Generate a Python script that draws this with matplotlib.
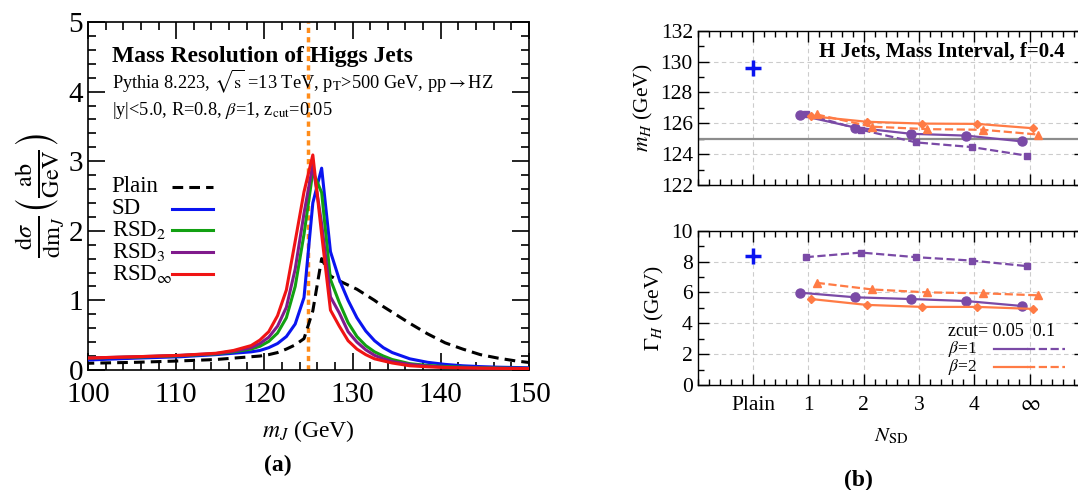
import numpy as np
import matplotlib
matplotlib.use("Agg")
import matplotlib.pyplot as plt
from matplotlib.lines import Line2D

plt.rcParams['font.family'] = ['Liberation Serif', 'DejaVu Serif']
plt.rcParams['mathtext.fontset'] = 'stix'

# ---- panel (a): jet mass distributions (bin centres, GeV) ----
m_J = [99.5, 105.5, 110.5, 114.5, 116.5, 118.5, 119.5, 120.5, 121.5, 122.5,
       123.5, 124.5, 125.5, 126.5, 127.5, 128.5, 129.5, 130.5, 131.5, 132.5,
       133.5, 134.5, 136.5, 138.5, 140.5, 142.5, 144.5, 146.5, 148.5, 150.5]
plain = [0.095, 0.11, 0.13, 0.15, 0.17, 0.19, 0.2, 0.22, 0.25, 0.3,
         0.36, 0.45, 0.85, 1.6, 1.35, 1.28, 1.22, 1.16, 1.08, 1.0,
         0.91, 0.83, 0.67, 0.52, 0.39, 0.3, 0.22, 0.17, 0.13, 0.1]
sd = [0.14, 0.17, 0.19, 0.22, 0.24, 0.26, 0.28, 0.32, 0.38, 0.48,
      0.66, 1.04, 2.4, 2.9, 1.7, 1.3, 1.0, 0.75, 0.56, 0.42,
      0.32, 0.25, 0.16, 0.11, 0.08, 0.06, 0.048, 0.04, 0.035, 0.03]
rsd2 = [0.17, 0.185, 0.205, 0.23, 0.26, 0.30, 0.34, 0.41, 0.53, 0.75,
        1.2, 1.95, 2.85, 2.55, 1.3, 0.97, 0.68, 0.48, 0.35, 0.26,
        0.2, 0.15, 0.09, 0.065, 0.05, 0.04, 0.032, 0.027, 0.024, 0.022]
rsd3 = [0.17, 0.19, 0.21, 0.235, 0.27, 0.32, 0.38, 0.47, 0.63, 0.9,
        1.45, 2.25, 2.95, 2.1, 1.05, 0.82, 0.55, 0.4, 0.29, 0.21,
        0.16, 0.12, 0.08, 0.055, 0.04, 0.033, 0.027, 0.024, 0.022, 0.02]
rsdinf = [0.17, 0.19, 0.21, 0.24, 0.28, 0.35, 0.43, 0.55, 0.78, 1.15,
          1.85, 2.56, 3.09, 1.95, 0.86, 0.63, 0.42, 0.30, 0.22, 0.16,
          0.13, 0.10, 0.06, 0.045, 0.035, 0.03, 0.025, 0.022, 0.02, 0.02]
m_higgs = 125.0

# ---- panel (b): fitted mass and width vs N_SD ----
n_sd_labels = ['Plain', '1', '2', '3', '4', r'$\infty$']
plain_mass = 129.6
plain_width = 8.38
mass_b1_z005 = [126.52, 125.72, 125.32, 125.2, 124.83]
mass_b1_z01 = [126.6, 125.58, 124.76, 124.46, 123.9]
mass_b2_z005 = [126.46, 126.1, 125.98, 125.96, 125.68]
mass_b2_z01 = [126.57, 125.78, 125.62, 125.58, 125.27]
width_b1_z005 = [5.98, 5.68, 5.57, 5.44, 5.12]
width_b1_z01 = [8.28, 8.58, 8.28, 8.06, 7.7]
width_b2_z005 = [5.57, 5.19, 5.06, 5.06, 4.93]
width_b2_z01 = [6.62, 6.19, 6.0, 5.94, 5.81]

purple = '#7a4aa6'
orange = '#ff7b45'

fig = plt.figure(figsize=(10.78, 4.9), dpi=100)

# ===================== (a) =====================
ax = fig.add_axes([0.0816, 0.245, 0.409, 0.710])
curves = [(plain, 'Plain', 'black', '--'), (sd, 'SD', '#0a14f0', '-'),
          (rsd2, r'RSD$_2$', '#12a012', '-'), (rsd3, r'RSD$_3$', '#801a8c', '-'),
          (rsdinf, r'RSD$_\infty$', '#f01414', '-')]
for y, lab, c, ls in curves:
    if ls == '--':
        ax.plot(m_J, y, color=c, lw=2.2, ls=(0, (3.5, 2)), zorder=3)
    else:
        ax.plot(m_J, y, color=c, lw=2.2, zorder=3)
ax.axvline(m_higgs, color='#ff8c1a', lw=2.5, ls=(0, (1.5, 1.2)), zorder=2)
ax.set_xlim(100, 150)
ax.set_ylim(0, 5)
ax.set_xticks(np.arange(100, 151, 10))
ax.set_xticks(np.arange(100, 151, 2), minor=True)
ax.set_yticks(np.arange(0, 6, 1))
ax.set_yticks(np.arange(0, 5.01, 0.2), minor=True)
ax.tick_params(which='both', direction='in', top=True, right=True, labelsize=21, width=1.2)
ax.tick_params(which='major', length=12)
ax.tick_params(which='minor', length=6)
ax.tick_params(axis='x', pad=9)
for s in ax.spines.values():
    s.set_linewidth(1.2)
ax.set_xlabel(r'$m_J$ (GeV)', fontsize=17, labelpad=7)
ax.set_ylabel(r'$\frac{\mathrm{d}\sigma}{\mathrm{d}\mathrm{m}_J}\left(\frac{\mathrm{ab}}{\mathrm{GeV}}\right)$',
              fontsize=25, labelpad=2)

ax.text(0.054, 0.885, 'Mass Resolution of Higgs Jets', transform=ax.transAxes,
        fontsize=17, fontweight='bold')
ax.text(0.054, 0.81, r'Pythia 8.223, $\sqrt{\mathrm{s}}$ =13 TeV, p$_\mathrm{T}$>500 GeV, pp$\rightarrow$HZ',
        transform=ax.transAxes, fontsize=13.2)
ax.text(0.054, 0.733, r'|y|<5.0, R=0.8, $\beta$=1, z$_\mathrm{cut}$=0.05',
        transform=ax.transAxes, fontsize=13.2)

# legend: labels left, line samples right
for i, (y, lab, c, ls) in enumerate(curves):
    yy = 0.526 - i * 0.0624
    ax.text(0.054, yy, lab, transform=ax.transAxes, fontsize=16.5, va='center')
    dash = (0, (3.5, 2)) if ls == '--' else '-'
    ax.add_line(Line2D([0.19, 0.284], [yy, yy], transform=ax.transAxes,
                       color=c, lw=2.2, ls=dash))

fig.text(0.258, 0.05, '(a)', fontsize=17, fontweight='bold', ha='center', va='center')

# ===================== (b) =====================
xs = np.arange(1, 6)
ax1 = fig.add_axes([0.6472, 0.6224, 0.3595, 0.315])
ax2 = fig.add_axes([0.6472, 0.2143, 0.3595, 0.315])

series_mass = [(mass_b1_z005, -0.15, purple, '-', 'o', 6.5),
               (mass_b1_z01, -0.05, purple, '--', 's', 4.5),
               (mass_b2_z005, 0.05, orange, '-', 'D', 4.5),
               (mass_b2_z01, 0.15, orange, '--', '^', 5.5)]
series_width = [(width_b1_z005, -0.15, purple, '-', 'o', 6.5),
                (width_b1_z01, -0.05, purple, '--', 's', 4.5),
                (width_b2_z005, 0.05, orange, '-', 'D', 4.5),
                (width_b2_z01, 0.15, orange, '--', '^', 5.5)]

for a, series, pv in [(ax1, series_mass, plain_mass), (ax2, series_width, plain_width)]:
    for vals, off, c, ls, mk, ms in series:
        a.plot(xs + off, vals, color=c, ls=ls, marker=mk, ms=ms, lw=1.6, zorder=3)
    a.plot([0], [pv], marker='+', color='#0a14f0', ms=11, mew=2.5, ls='none', zorder=3)
    a.set_xlim(-1, 6)
    a.set_xticks(np.arange(0, 6))
    a.set_xticks(np.arange(-1, 6.01, 0.2), minor=True)
    a.grid(True, which='major', ls=(0, (4, 3)), color='#cccccc', lw=0.8)
    a.tick_params(which='both', direction='in', top=True, right=True, labelsize=15.5, width=1.0)
    a.tick_params(which='major', length=8)
    a.tick_params(which='minor', length=4.5)
    a.set_axisbelow(True)
    for s in a.spines.values():
        s.set_linewidth(1.0)

ax1.axhline(m_higgs, color='#8c8c8c', lw=1.6, zorder=2)
ax1.set_ylim(122, 132)
ax1.set_yticks(np.arange(122, 133, 2))
ax1.set_yticks(np.arange(122, 132.01, 1), minor=True)
ax1.tick_params(labelbottom=False)
ax1.set_ylabel(r'$m_H$ (GeV)', fontsize=15.5)
ax1.text(0.948, 0.862, 'H Jets, Mass Interval, f=0.4', transform=ax1.transAxes,
         fontsize=15, fontweight='bold', ha='right', va='center')

ax2.set_ylim(0, 10)
ax2.set_yticks(np.arange(0, 11, 2))
ax2.set_yticks(np.arange(0, 10.01, 1), minor=True)
ax2.set_xticklabels(n_sd_labels)
ax2.tick_params(axis='x', pad=8)
ax2.set_ylabel(r'$\Gamma_H$ (GeV)', fontsize=15.5)
ax2.set_xlabel(r'$N_{\mathrm{SD}}$', fontsize=15, labelpad=8)

# zcut / beta legend
ax2.text(0.646, 0.347, 'zcut= 0.05  0.1', transform=ax2.transAxes, fontsize=13, va='center')
for yy, lab, c in [(0.236, r'$\beta$=1', purple), (0.116, r'$\beta$=2', orange)]:
    ax2.text(0.646, yy, lab, transform=ax2.transAxes, fontsize=12.5, va='center')
    ax2.add_line(Line2D([0.765, 0.85], [yy, yy], transform=ax2.transAxes, color=c, lw=1.6))
    ax2.add_line(Line2D([0.85, 0.948], [yy, yy], transform=ax2.transAxes, color=c, lw=1.6, ls='--'))

fig.text(0.796, 0.02, '(b)', fontsize=17, fontweight='bold', ha='center', va='center')

fig.savefig('out.png', dpi=100)
